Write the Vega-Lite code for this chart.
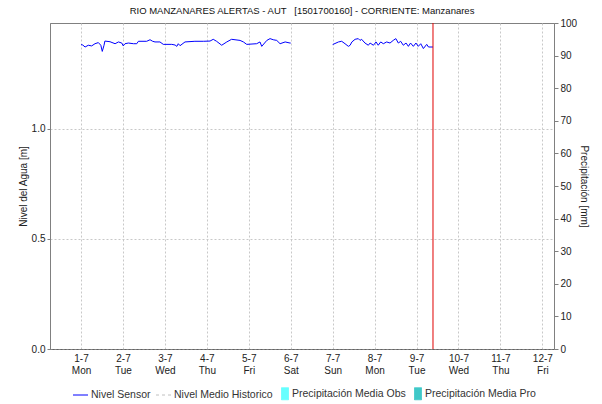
{
  "$schema": "https://vega.github.io/schema/vega-lite/v6.json",
  "width": 504,
  "height": 326,
  "autosize": {"type": "none"},
  "padding": {"left": 50, "top": 23, "right": 48, "bottom": 55},
  "background": "white",
  "config": {
    "font": "Liberation Sans",
    "view": {"stroke": "#808080", "strokeWidth": 1},
    "axis": {
      "labelFont": "Liberation Sans", "labelFontSize": 10, "labelColor": "#222",
      "titleFont": "Liberation Sans", "titleFontSize": 10, "titleFontWeight": "normal", "titleColor": "#222",
      "domainColor": "#808080", "tickColor": "#808080",
      "gridColor": "#c8c8c8", "gridDash": [2, 2], "gridWidth": 1
    },
    "legend": {
      "labelFont": "Liberation Sans", "labelFontSize": 10.5, "labelColor": "#333"
    }
  },
  "title": {
    "text": "RIO MANZANARES ALERTAS - AUT \u00a0 [1501700160] - CORRIENTE: Manzanares",
    "fontSize": 9.5, "fontWeight": "normal", "color": "#111", "offset": 3, "anchor": "middle", "font": "Liberation Sans"
  },
  "layer": [
    {
      "data": {"values": [
        {"t": "2024-07-01T00:00", "nivel": 1.382, "serie": "Nivel Sensor", "tramo": 1},
        {"t": "2024-07-01T01:00", "nivel": 1.380, "serie": "Nivel Sensor", "tramo": 1},
        {"t": "2024-07-01T02:20", "nivel": 1.371, "serie": "Nivel Sensor", "tramo": 1},
        {"t": "2024-07-01T04:10", "nivel": 1.379, "serie": "Nivel Sensor", "tramo": 1},
        {"t": "2024-07-01T06:05", "nivel": 1.376, "serie": "Nivel Sensor", "tramo": 1},
        {"t": "2024-07-01T08:00", "nivel": 1.386, "serie": "Nivel Sensor", "tramo": 1},
        {"t": "2024-07-01T09:55", "nivel": 1.391, "serie": "Nivel Sensor", "tramo": 1},
        {"t": "2024-07-01T11:20", "nivel": 1.379, "serie": "Nivel Sensor", "tramo": 1},
        {"t": "2024-07-01T12:10", "nivel": 1.351, "serie": "Nivel Sensor", "tramo": 1},
        {"t": "2024-07-01T13:10", "nivel": 1.379, "serie": "Nivel Sensor", "tramo": 1},
        {"t": "2024-07-01T13:40", "nivel": 1.398, "serie": "Nivel Sensor", "tramo": 1},
        {"t": "2024-07-01T16:35", "nivel": 1.395, "serie": "Nivel Sensor", "tramo": 1},
        {"t": "2024-07-01T19:30", "nivel": 1.386, "serie": "Nivel Sensor", "tramo": 1},
        {"t": "2024-07-01T21:25", "nivel": 1.394, "serie": "Nivel Sensor", "tramo": 1},
        {"t": "2024-07-01T23:20", "nivel": 1.389, "serie": "Nivel Sensor", "tramo": 1},
        {"t": "2024-07-02T00:10", "nivel": 1.376, "serie": "Nivel Sensor", "tramo": 1},
        {"t": "2024-07-02T01:10", "nivel": 1.386, "serie": "Nivel Sensor", "tramo": 1},
        {"t": "2024-07-02T03:05", "nivel": 1.389, "serie": "Nivel Sensor", "tramo": 1},
        {"t": "2024-07-02T06:00", "nivel": 1.386, "serie": "Nivel Sensor", "tramo": 1},
        {"t": "2024-07-02T07:55", "nivel": 1.386, "serie": "Nivel Sensor", "tramo": 1},
        {"t": "2024-07-02T08:50", "nivel": 1.397, "serie": "Nivel Sensor", "tramo": 1},
        {"t": "2024-07-02T13:35", "nivel": 1.397, "serie": "Nivel Sensor", "tramo": 1},
        {"t": "2024-07-02T15:30", "nivel": 1.404, "serie": "Nivel Sensor", "tramo": 1},
        {"t": "2024-07-02T17:00", "nivel": 1.397, "serie": "Nivel Sensor", "tramo": 1},
        {"t": "2024-07-02T18:20", "nivel": 1.394, "serie": "Nivel Sensor", "tramo": 1},
        {"t": "2024-07-02T21:10", "nivel": 1.394, "serie": "Nivel Sensor", "tramo": 1},
        {"t": "2024-07-02T23:05", "nivel": 1.383, "serie": "Nivel Sensor", "tramo": 1},
        {"t": "2024-07-03T03:55", "nivel": 1.383, "serie": "Nivel Sensor", "tramo": 1},
        {"t": "2024-07-03T05:50", "nivel": 1.380, "serie": "Nivel Sensor", "tramo": 1},
        {"t": "2024-07-03T06:50", "nivel": 1.374, "serie": "Nivel Sensor", "tramo": 1},
        {"t": "2024-07-03T07:40", "nivel": 1.386, "serie": "Nivel Sensor", "tramo": 1},
        {"t": "2024-07-03T08:40", "nivel": 1.377, "serie": "Nivel Sensor", "tramo": 1},
        {"t": "2024-07-03T11:30", "nivel": 1.394, "serie": "Nivel Sensor", "tramo": 1},
        {"t": "2024-07-03T17:10", "nivel": 1.397, "serie": "Nivel Sensor", "tramo": 1},
        {"t": "2024-07-03T22:00", "nivel": 1.397, "serie": "Nivel Sensor", "tramo": 1},
        {"t": "2024-07-04T01:50", "nivel": 1.398, "serie": "Nivel Sensor", "tramo": 1},
        {"t": "2024-07-04T03:40", "nivel": 1.406, "serie": "Nivel Sensor", "tramo": 1},
        {"t": "2024-07-04T05:35", "nivel": 1.397, "serie": "Nivel Sensor", "tramo": 1},
        {"t": "2024-07-04T08:30", "nivel": 1.379, "serie": "Nivel Sensor", "tramo": 1},
        {"t": "2024-07-04T11:25", "nivel": 1.394, "serie": "Nivel Sensor", "tramo": 1},
        {"t": "2024-07-04T14:10", "nivel": 1.406, "serie": "Nivel Sensor", "tramo": 1},
        {"t": "2024-07-04T19:00", "nivel": 1.401, "serie": "Nivel Sensor", "tramo": 1},
        {"t": "2024-07-04T20:55", "nivel": 1.394, "serie": "Nivel Sensor", "tramo": 1},
        {"t": "2024-07-04T22:50", "nivel": 1.383, "serie": "Nivel Sensor", "tramo": 1},
        {"t": "2024-07-05T04:30", "nivel": 1.386, "serie": "Nivel Sensor", "tramo": 1},
        {"t": "2024-07-05T06:25", "nivel": 1.394, "serie": "Nivel Sensor", "tramo": 1},
        {"t": "2024-07-05T07:25", "nivel": 1.374, "serie": "Nivel Sensor", "tramo": 1},
        {"t": "2024-07-05T10:20", "nivel": 1.401, "serie": "Nivel Sensor", "tramo": 1},
        {"t": "2024-07-05T12:10", "nivel": 1.409, "serie": "Nivel Sensor", "tramo": 1},
        {"t": "2024-07-05T14:00", "nivel": 1.404, "serie": "Nivel Sensor", "tramo": 1},
        {"t": "2024-07-05T16:00", "nivel": 1.401, "serie": "Nivel Sensor", "tramo": 1},
        {"t": "2024-07-05T17:55", "nivel": 1.386, "serie": "Nivel Sensor", "tramo": 1},
        {"t": "2024-07-05T20:50", "nivel": 1.394, "serie": "Nivel Sensor", "tramo": 1},
        {"t": "2024-07-05T23:35", "nivel": 1.389, "serie": "Nivel Sensor", "tramo": 1},
        {"t": "2024-07-06T00:00", "nivel": 1.389, "serie": "Nivel Sensor", "tramo": 1},
        {"t": "2024-07-07T00:00", "nivel": 1.382, "serie": "Nivel Sensor", "tramo": 2},
        {"t": "2024-07-07T03:20", "nivel": 1.394, "serie": "Nivel Sensor", "tramo": 2},
        {"t": "2024-07-07T05:10", "nivel": 1.397, "serie": "Nivel Sensor", "tramo": 2},
        {"t": "2024-07-07T07:05", "nivel": 1.386, "serie": "Nivel Sensor", "tramo": 2},
        {"t": "2024-07-07T09:00", "nivel": 1.374, "serie": "Nivel Sensor", "tramo": 2},
        {"t": "2024-07-07T10:00", "nivel": 1.379, "serie": "Nivel Sensor", "tramo": 2},
        {"t": "2024-07-07T11:00", "nivel": 1.394, "serie": "Nivel Sensor", "tramo": 2},
        {"t": "2024-07-07T12:50", "nivel": 1.406, "serie": "Nivel Sensor", "tramo": 2},
        {"t": "2024-07-07T14:40", "nivel": 1.409, "serie": "Nivel Sensor", "tramo": 2},
        {"t": "2024-07-07T15:40", "nivel": 1.401, "serie": "Nivel Sensor", "tramo": 2},
        {"t": "2024-07-07T16:35", "nivel": 1.406, "serie": "Nivel Sensor", "tramo": 2},
        {"t": "2024-07-07T18:30", "nivel": 1.389, "serie": "Nivel Sensor", "tramo": 2},
        {"t": "2024-07-07T20:25", "nivel": 1.379, "serie": "Nivel Sensor", "tramo": 2},
        {"t": "2024-07-07T21:25", "nivel": 1.389, "serie": "Nivel Sensor", "tramo": 2},
        {"t": "2024-07-07T23:20", "nivel": 1.379, "serie": "Nivel Sensor", "tramo": 2},
        {"t": "2024-07-08T00:50", "nivel": 1.394, "serie": "Nivel Sensor", "tramo": 2},
        {"t": "2024-07-08T02:05", "nivel": 1.379, "serie": "Nivel Sensor", "tramo": 2},
        {"t": "2024-07-08T03:30", "nivel": 1.394, "serie": "Nivel Sensor", "tramo": 2},
        {"t": "2024-07-08T05:00", "nivel": 1.386, "serie": "Nivel Sensor", "tramo": 2},
        {"t": "2024-07-08T06:55", "nivel": 1.394, "serie": "Nivel Sensor", "tramo": 2},
        {"t": "2024-07-08T08:50", "nivel": 1.389, "serie": "Nivel Sensor", "tramo": 2},
        {"t": "2024-07-08T10:40", "nivel": 1.401, "serie": "Nivel Sensor", "tramo": 2},
        {"t": "2024-07-08T12:10", "nivel": 1.409, "serie": "Nivel Sensor", "tramo": 2},
        {"t": "2024-07-08T13:35", "nivel": 1.389, "serie": "Nivel Sensor", "tramo": 2},
        {"t": "2024-07-08T14:55", "nivel": 1.397, "serie": "Nivel Sensor", "tramo": 2},
        {"t": "2024-07-08T16:25", "nivel": 1.379, "serie": "Nivel Sensor", "tramo": 2},
        {"t": "2024-07-08T18:00", "nivel": 1.389, "serie": "Nivel Sensor", "tramo": 2},
        {"t": "2024-07-08T19:20", "nivel": 1.374, "serie": "Nivel Sensor", "tramo": 2},
        {"t": "2024-07-08T20:35", "nivel": 1.389, "serie": "Nivel Sensor", "tramo": 2},
        {"t": "2024-07-08T22:10", "nivel": 1.374, "serie": "Nivel Sensor", "tramo": 2},
        {"t": "2024-07-08T23:40", "nivel": 1.389, "serie": "Nivel Sensor", "tramo": 2},
        {"t": "2024-07-09T01:00", "nivel": 1.374, "serie": "Nivel Sensor", "tramo": 2},
        {"t": "2024-07-09T02:25", "nivel": 1.386, "serie": "Nivel Sensor", "tramo": 2},
        {"t": "2024-07-09T03:55", "nivel": 1.364, "serie": "Nivel Sensor", "tramo": 2},
        {"t": "2024-07-09T05:50", "nivel": 1.383, "serie": "Nivel Sensor", "tramo": 2},
        {"t": "2024-07-09T06:50", "nivel": 1.371, "serie": "Nivel Sensor", "tramo": 2},
        {"t": "2024-07-09T09:25", "nivel": 1.371, "serie": "Nivel Sensor", "tramo": 2}
      ]},
      "mark": {"type": "line", "strokeWidth": 1},
      "encoding": {
        "x": {
          "field": "t", "type": "temporal",
          "scale": {"nice": false, "padding": 0, "domain": [
            {"year": 2024, "month": 6, "date": 30, "hours": 6, "minutes": 15},
            {"year": 2024, "month": 7, "date": 12, "hours": 6, "minutes": 40}
          ]},
          "axis": {
            "title": null,
            "tickCount": {"interval": "day", "step": 1},
            "labelExpr": "[timeFormat(datum.value, '%-d-%-m'), timeFormat(datum.value, '%a')]",
            "labelLineHeight": 12,
            "labelPadding": 4,
            "ticks": false,
            "grid": true,
            "domainColor": "#444",
            "domainDash": [1, 1],
            "labelFlush": false
          }
        },
        "y": {
          "field": "nivel", "type": "quantitative",
          "scale": {"domain": [0, 1.48], "nice": false, "zero": true},
          "axis": {
            "title": "Nivel del Agua [m]",
            "values": [0, 0.5, 1.0],
            "format": ".1f",
            "tickSize": 3,
            "labelPadding": 2,
            "titlePadding": 3,
            "grid": true
          }
        },
        "color": {
          "field": "serie", "type": "nominal",
          "scale": {
            "domain": ["Nivel Sensor", "Nivel Medio Historico", "Precipitación Media Obs", "Precipitación Media Pro"],
            "range": ["#0000ff", "#c0c0c0", "#66ffff", "#40c8c8"]
          },
          "legend": {
            "title": null,
            "orient": "none",
            "legendX": 25,
            "legendY": 365,
            "direction": "horizontal",
            "symbolSize": 100,
            "labelOffset": 5,
            "columnPadding": 3,
            "symbolStrokeWidth": 1,
            "encode": {
              "symbols": {
                "update": {
                  "shape": {"signal": "datum.value == 'Nivel Sensor' || datum.value == 'Nivel Medio Historico' ? 'M-1.5,0H1.5' : 'M0,-1.2V1.2H1.4V-1.2Z'"},
                  "fill": {"signal": "datum.value == 'Precipitación Media Obs' ? '#66ffff' : datum.value == 'Precipitación Media Pro' ? '#40c8c8' : 'transparent'"},
                  "stroke": {"signal": "datum.value == 'Nivel Sensor' ? '#0000ff' : datum.value == 'Nivel Medio Historico' ? '#c0c0c0' : 'transparent'"},
                  "strokeDash": {"signal": "datum.value == 'Nivel Medio Historico' ? [3, 3] : [1, 0]"},
                  "strokeWidth": {"value": 1},
                  "opacity": {"value": 1}
                }
              }
            }
          }
        },
        "detail": {"field": "tramo", "type": "nominal"}
      }
    },
    {
      "data": {"values": [
        {"t": "2024-07-01T00:00", "mm": 0, "serie": "Precipitación Media Obs"},
        {"t": "2024-07-02T00:00", "mm": 0, "serie": "Precipitación Media Obs"},
        {"t": "2024-07-03T00:00", "mm": 0, "serie": "Precipitación Media Obs"},
        {"t": "2024-07-04T00:00", "mm": 0, "serie": "Precipitación Media Obs"},
        {"t": "2024-07-05T00:00", "mm": 0, "serie": "Precipitación Media Obs"},
        {"t": "2024-07-06T00:00", "mm": 0, "serie": "Precipitación Media Obs"},
        {"t": "2024-07-07T00:00", "mm": 0, "serie": "Precipitación Media Obs"},
        {"t": "2024-07-08T00:00", "mm": 0, "serie": "Precipitación Media Obs"},
        {"t": "2024-07-09T00:00", "mm": 0, "serie": "Precipitación Media Obs"}
      ]},
      "mark": {"type": "bar", "width": 3},
      "encoding": {
        "x": {"field": "t", "type": "temporal"},
        "y": {
          "field": "mm", "type": "quantitative",
          "scale": {"domain": [0, 100], "nice": false},
          "axis": {
            "orient": "right",
            "title": "Precipitación [mm]",
            "values": [0, 10, 20, 30, 40, 50, 60, 70, 80, 90, 100],
            "tickSize": 4,
            "labelPadding": 2,
            "titlePadding": 2,
            "grid": false
          }
        },
        "color": {"field": "serie", "type": "nominal"}
      }
    },
    {
      "data": {"values": [{"t": "2024-07-09T09:25", "evento": "Ahora"}]},
      "mark": {"type": "rule", "color": "#e00000", "strokeWidth": 1},
      "encoding": {
        "x": {"field": "t", "type": "temporal"}
      }
    }
  ],
  "resolve": {"scale": {"y": "independent"}}
}
